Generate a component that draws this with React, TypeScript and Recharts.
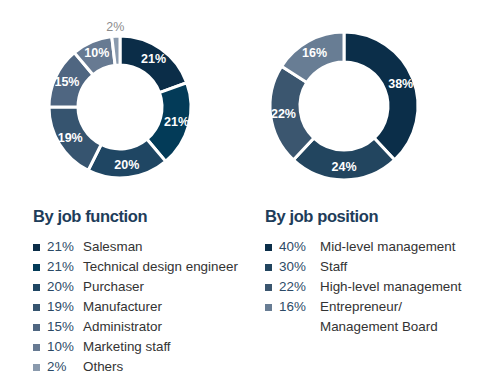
import React from 'react';
import { PieChart, Pie, Cell } from 'recharts';

const functionNames = [
  'Salesman',
  'Technical design engineer',
  'Purchaser',
  'Manufacturer',
  'Administrator',
  'Marketing staff',
  'Others',
];
const functionValues = [21, 21, 20, 19, 15, 10, 2];
const functionColors = ['#0b2d48', '#033b58', '#1f4663', '#36546f', '#4f6681', '#677a92', '#8a9aad'];

const positionNames = ['Mid-level management', 'Staff', 'High-level management', 'Entrepreneur/\nManagement Board'];
const positionLegendValues = [40, 30, 22, 16];
const positionValues = [38, 24, 22, 16];
const positionColors = ['#0b2e49', '#22455f', '#3b566f', '#687d94'];

const RAD = Math.PI / 180;
const FONT = '"Liberation Sans", Arial, sans-serif';

const sliceLabel = (props: any) => {
  const { cx, cy, midAngle, innerRadius, outerRadius, value } = props;
  const small = value < 5;
  const r = small ? outerRadius + 9 : (innerRadius + outerRadius) / 2 + 2;
  const x = cx + r * Math.cos(-midAngle * RAD);
  const y = cy + r * Math.sin(-midAngle * RAD);
  return (
    <text
      x={x}
      y={y}
      fill={small ? '#8c8c8c' : '#ffffff'}
      fontSize={small ? 12.5 : 12.5}
      fontWeight={small ? 400 : 700}
      fontFamily={FONT}
      textAnchor="middle"
      dominantBaseline="central"
    >
      {value}%
    </text>
  );
};

const Donut = ({ values, colors, cx, cy, inner, outer, width, height }: any) => {
  const data = values.map((v: number, i: number) => ({ name: `s${i}`, value: v }));
  return (
    <PieChart width={width} height={height}>
      <Pie
        data={data}
        dataKey="value"
        cx={cx}
        cy={cy}
        innerRadius={inner}
        outerRadius={outer}
        startAngle={90}
        endAngle={-270}
        stroke="#ffffff"
        strokeWidth={3}
        label={sliceLabel}
        labelLine={false}
        isAnimationActive={false}
      >
        {data.map((_: any, i: number) => (
          <Cell key={`c-${i}`} fill={colors[i]} />
        ))}
      </Pie>
    </PieChart>
  );
};

const LegendBlock = ({ left, title, names, values, colors, pctX }: any) => (
  <div style={{ position: 'absolute', left, top: 204, fontFamily: FONT }}>
    <div style={{ fontSize: 16.5, fontWeight: 700, color: '#1e3d5a', letterSpacing: -0.4, height: 24, lineHeight: '24px' }}>
      {title}
    </div>
    <div style={{ marginTop: 9 }}>
      {names.map((n: string, i: number) => (
        <div key={n} style={{ position: 'relative', height: 20, fontSize: 13.4, lineHeight: '20px' }}>
          <span
            style={{ position: 'absolute', left: 0, top: 7, width: 7, height: 7, background: colors[i] }}
          />
          <span style={{ position: 'absolute', left: 14, color: '#2d4a66' }}>{values[i]}%</span>
          <span style={{ position: 'absolute', left: pctX, color: '#333333', whiteSpace: 'pre' }}>{n}</span>
        </div>
      ))}
    </div>
  </div>
);

export default function App() {
  return (
    <div style={{ position: 'absolute', left: 0, top: 0, width: 480, height: 384, background: '#fff', overflow: 'hidden' }}>
      <div style={{ position: 'absolute', left: 0, top: 0 }}>
        <Donut values={functionValues} colors={functionColors} cx={115} cy={102} inner={42} outer={71} width={240} height={200} />
      </div>
      <div style={{ position: 'absolute', left: 240, top: 0 }}>
        <Donut values={positionValues} colors={positionColors} cx={99} cy={101} inner={44} outer={74} width={240} height={200} />
      </div>
      <LegendBlock left={33} title="By job function" names={functionNames} values={functionValues} colors={functionColors} pctX={50} />
      <LegendBlock left={265} title="By job position" names={positionNames} values={positionLegendValues} colors={positionColors} pctX={55} />
    </div>
  );
}
